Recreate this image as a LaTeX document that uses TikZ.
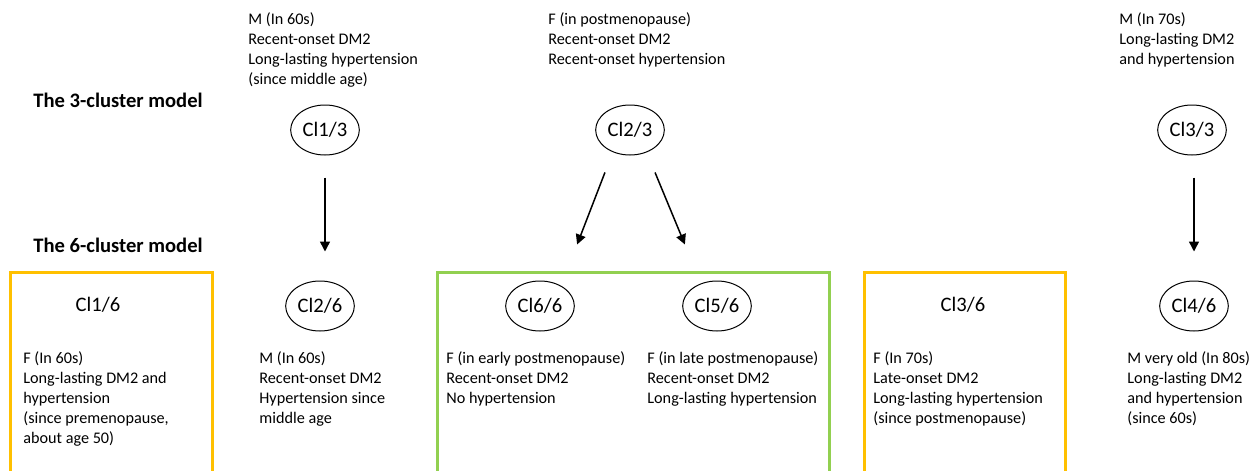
\documentclass[tikz,border=0pt]{standalone}
\usepackage{fontspec}
\setmainfont{Carlito}
\usetikzlibrary{shapes.geometric,arrows.meta,positioning}
\definecolor{boxorange}{HTML}{FFC000}
\definecolor{boxgreen}{HTML}{92D050}

\begin{document}
\begin{tikzpicture}[x=0.5pt,y=-0.5pt,
    cl/.style = {draw, ellipse, line width=0.5pt, minimum width=32pt, minimum height=25pt, inner sep=1pt, font=\fontsize{10.3}{12}\selectfont},
    cllabel/.style = {inner sep=0pt, font=\fontsize{10.3}{12}\selectfont},
    title/.style = {inner sep=0pt, anchor=base west, font=\fontsize{10.3}{12}\selectfont\bfseries},
    desc/.style = {inner sep=0pt, anchor=north west, align=left, font=\fontsize{8.1}{10}\selectfont},
    arr/.style = {-{Triangle[length=5pt,width=5pt]}, line width=0.75pt},
    group/.style = {line width=1.5pt}]
        \useasboundingbox (0,0) rectangle (1259,471);
        \node[title] (m3) at (33,107) {The 3-cluster model};
        \node[title] (m6) at (33,252) {The 6-cluster model};
        \node[cl] (c13) at (325,130) {Cl1/3};
        \node[cl] (c23) at (630,130) {Cl2/3};
        \node[cl] (c33) at (1192,130) {Cl3/3};
        \node[desc] (t13) at (248,12) {M (In 60s)\\Recent-onset DM2\\Long-lasting hypertension\\(since middle age)};
        \node[desc] (t23) at (548,12) {F (in postmenopause)\\Recent-onset DM2\\Recent-onset hypertension};
        \node[desc] (t33) at (1119,12) {M (In 70s)\\Long-lasting DM2\\and hypertension};
        \node[cllabel] (c16) at (98,305) {Cl1/6};
        \node[cl] (c26) at (320,306) {Cl2/6};
        \node[cl] (c66) at (540,306) {Cl6/6};
        \node[cl] (c56) at (717,306) {Cl5/6};
        \node[cllabel] (c36) at (963,305) {Cl3/6};
        \node[cl] (c46) at (1194,306) {Cl4/6};
        \node[desc] (d16) at (23,351) {F (In 60s)\\Long-lasting DM2 and\\hypertension\\(since premenopause,\\about age 50)};
        \node[desc] (d26) at (259,351) {M (In 60s)\\Recent-onset DM2\\Hypertension since\\middle age};
        \node[desc] (d66) at (446,351) {F (in early postmenopause)\\Recent-onset DM2\\No hypertension};
        \node[desc] (d56) at (647,351) {F (in late postmenopause)\\Recent-onset DM2\\Long-lasting hypertension};
        \node[desc] (d36) at (873,351) {F (In 70s)\\Late-onset DM2\\Long-lasting hypertension\\(since postmenopause)};
        \node[desc] (d46) at (1127,351) {M very old (In 80s)\\Long-lasting DM2\\and hypertension\\(since 60s)};
        \draw[arr, shorten <=11pt, shorten >=14.5pt] (c13.south) -- (c13.south |- c26.north);
        \draw[arr, shorten <=9.1pt, shorten >=19.3pt] ([xshift=-9.25pt]c23.south) -- ([xshift=11.6pt]c66.north);
        \draw[arr, shorten <=9.2pt, shorten >=19.5pt] ([xshift=9pt]c23.south) -- ([xshift=-8.6pt]c56.north);
        \draw[arr, shorten <=11pt, shorten >=14.5pt] (c33.south -| c46) -- (c46.north);
        \draw[group, boxorange] (10,471) -- (10,272) -- (212,272) -- (212,471);
        \draw[group, boxgreen] (437,471) -- (437,272) -- (829,272) -- (829,471);
        \draw[group, boxorange] (864,471) -- (864,272) -- (1065,272) -- (1065,471);
\end{tikzpicture}
\end{document}
